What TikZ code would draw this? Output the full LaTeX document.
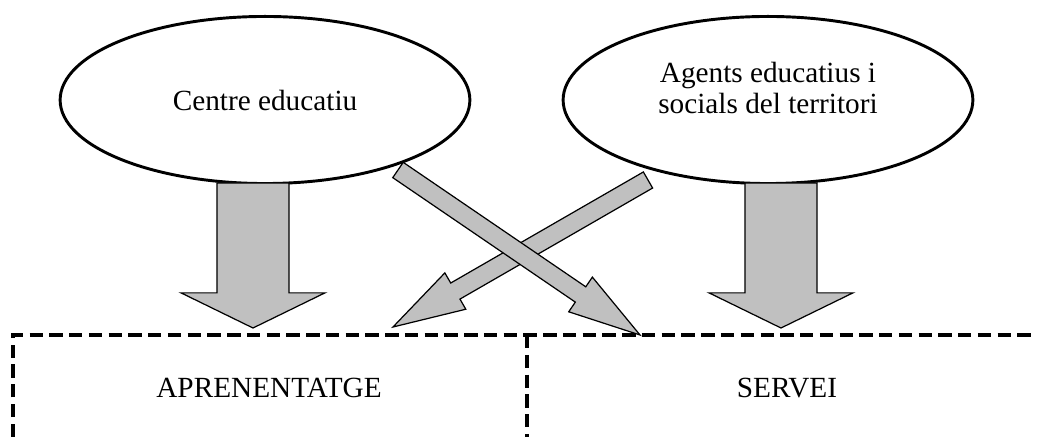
\documentclass[tikz,border=0pt]{standalone}
\usepackage{fontspec}
\setmainfont{Liberation Serif}
\usepackage{tikz}
\usetikzlibrary{calc}
\usetikzlibrary{shapes}
\definecolor{arrowgray}{RGB}{192,192,192}

\begin{document}
\begin{tikzpicture}[x=0.41pt, y=-0.41pt,
font=\fontsize{12}{12.5}\selectfont,
oval/.style = {ellipse, draw, line width=1.2pt, minimum width=168pt,
               minimum height=68.5pt, inner sep=0pt},
bigarrow/.style = {draw, line width=0.5pt, fill=arrowgray, line join=miter},
border/.style = {draw, line width=1.6pt, dash pattern=on 5.5pt off 2.6pt}
                        ]
\def\bigarrow#1#2#3#4#5{\path ($(#2)!#5!(#1)$) coordinate (hb);
\draw[bigarrow] ($(#1)!#3!90:(#2)$) -- ($(hb)!#3!90:(#2)$) -- ($(hb)!#4!90:(#2)$)
  -- (#2) -- ($(hb)!#4!-90:(#2)$) -- ($(hb)!#3!-90:(#2)$) -- ($(#1)!#3!-90:(#2)$) -- cycle;}
\useasboundingbox (0,0) rectangle (1037,437);
\node (centre) [oval] at (265,100) {Centre educatiu};
\node (agents) [oval] at (768,100) {};
\node (agtext) [align=center] at (768,88) {Agents educatius i\\socials del territori};
%\draw (0,0) rectangle (1037,437);
\node (aprenentatge) at (269,388) {APRENENTATGE};
\node (servei) at (787,388) {SERVEI};
\draw[border] (13,437) coordinate (bl) -- (13,335) coordinate (tl) -- (1040,335) coordinate (tr);
\draw[border] (527,335) coordinate (mt) -- (527,437) coordinate (mb);
% arrows
\coordinate (c1) at (253,183);
\coordinate (c2) at (253,328);
\coordinate (a1) at (781,183);
\coordinate (a2) at (781,328);
\coordinate (d1) at (398,170);
\coordinate (d2) at (640,335);
\coordinate (e1) at (648,180);
\coordinate (e2) at (393,327);
\bigarrow{c1}{c2}{14.8pt}{29.5pt}{14.4pt}
\bigarrow{a1}{a2}{14.8pt}{29.5pt}{14.4pt}
\bigarrow{e1}{e2}{3.8pt}{8.6pt}{29.5pt}
\bigarrow{d1}{d2}{3.8pt}{8.6pt}{29.5pt}
\end{tikzpicture}
\end{document}
